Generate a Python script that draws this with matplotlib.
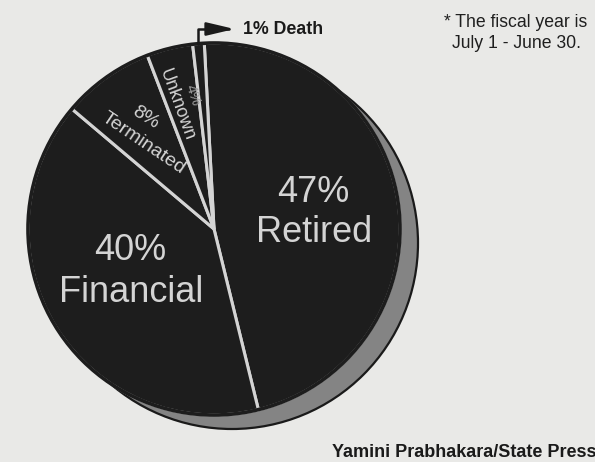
import numpy as np
import matplotlib.pyplot as plt
from matplotlib.patches import Circle

# canvas is worked in pixel units of the 595x462 picture
W, H = 595, 462

categories = ['Retired', 'Financial', 'Terminated', 'Unknown', 'Death']
shares = [47, 40, 8, 4, 1]
pct_labels = ['47%', '40%', '8%', '4%', '1%']

note = '* The fiscal year is\nJuly 1 - June 30.'
credit = 'Yamini Prabhakara/State Press'

bg = '#e9e9e7'
pie_col = '#1d1d1d'
line_col = '#d4d4d4'
txt_col = '#d4d4d4'

plt.rcParams['font.family'] = ['Liberation Sans', 'DejaVu Sans']


def Y(y):
    # image row -> data y
    return H - y


fig = plt.figure(figsize=(5.95, 4.62), dpi=100, facecolor=bg)
ax = fig.add_axes([0, 0, 1, 1])

cx, cy, r = 214, Y(229), 186

# grey drop shadow behind the pie
ax.add_patch(Circle((cx + 18, cy - 14), r, fc='#848484', ec='#1a1a1a',
                    lw=1.6, zorder=1))

wedges, _ = ax.pie(shares, center=(cx, cy), radius=r, startangle=93,
                   counterclock=False, colors=[pie_col] * len(shares),
                   wedgeprops=dict(edgecolor=line_col, linewidth=2.2, zorder=2))
# hide the light outline along the outer rim
ax.add_patch(Circle((cx, cy), r, fc='none', ec=pie_col, lw=2.6, zorder=3))

ax.set_xlim(0, W)
ax.set_ylim(0, H)
ax.set_aspect('equal')
ax.axis('off')

# big labels
big = dict(color=txt_col, fontsize=26, ha='center', va='center', zorder=5)
ax.text(313, Y(192), pct_labels[0], **big)
ax.text(314, Y(233), categories[0], **big)
ax.text(130, Y(250), pct_labels[1], **big)
ax.text(131, Y(292), categories[1], **big)

# small rotated labels
small = dict(ha='center', va='center', rotation_mode='anchor', zorder=5)
ax.text(145, Y(118), pct_labels[2], color=txt_col, fontsize=14, rotation=-32,
        **small)
ax.text(143, Y(143), categories[2], color=txt_col, fontsize=14, rotation=-34,
        **small)
ax.text(177, Y(105), categories[3], color=txt_col, fontsize=13, rotation=-70,
        **small)
ax.text(193, Y(95), pct_labels[3], color='#9c9c9c', fontsize=11, rotation=-72,
        **small)

# Death flag arrow, starting at the tip of the 1% slice
w = wedges[-1]
mid = np.deg2rad((w.theta1 + w.theta2) / 2)
tip = (cx + r * np.cos(mid), cy + r * np.sin(mid))
ax.annotate(pct_labels[4] + ' ' + categories[4], xy=tip, xytext=(243, Y(29)),
            ha='left', va='center', fontsize=12.8, fontweight='bold',
            color='#1a1a1a', zorder=6,
            arrowprops=dict(arrowstyle='<|-,head_length=1.7,head_width=0.4',
                            connectionstyle='angle,angleA=0,angleB=90,rad=0',
                            relpos=(0, 0.5), shrinkA=4, shrinkB=0,
                            mutation_scale=10, color='#1a1a1a', lw=1.8))

ax.text(516, Y(33), note, ha='center', va='center', fontsize=12.7,
        linespacing=1.3, color='#1f1f1f')
ax.text(596, Y(457), credit, ha='right', va='baseline', fontsize=13,
        fontweight='bold', color='#1a1a1a')

plt.savefig('out.png', dpi=100, facecolor=bg)
